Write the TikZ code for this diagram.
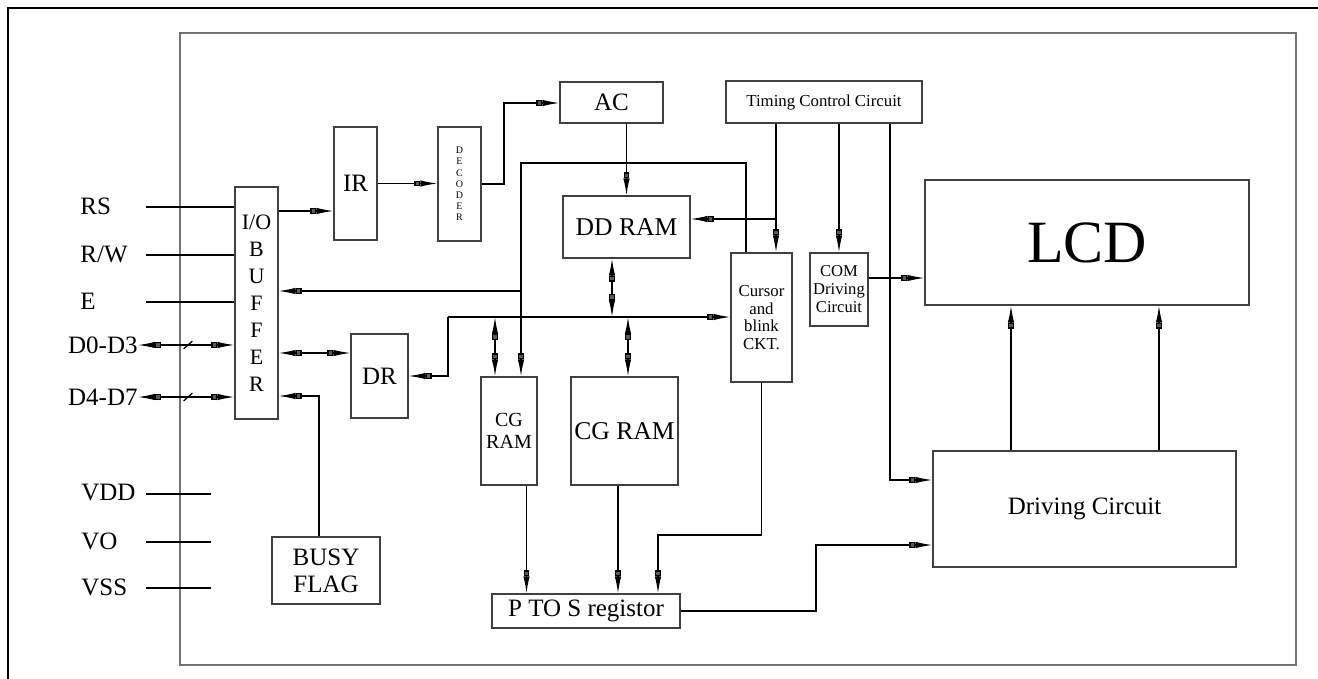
\documentclass[tikz,border=0pt]{standalone}
\usepackage{fontspec}
\setmainfont{Liberation Serif}
\usetikzlibrary{arrows.meta, positioning}
\tikzset{
    >=Latex,
    lcd_box/.style={
        rectangle,
        draw=black!75,
        line width=0.6pt,
        inner sep=0pt,
        align=center
    },
    lcd_frame/.style={
        rectangle,
        draw=black!55,
        line width=0.85pt,
        inner sep=0pt
    },
    lcd_pin/.style={
        inner sep=0pt,
        font=\fontsize{12.5}{15}\selectfont
    },
    lcd_wire/.style={
        draw=black,
        line width=0.6pt
    },
    lcd_arrow/.style={
        lcd_wire,
        -{Rectangle[length=3pt, width=2.8pt, sep=0pt, fill=black!65] Latex[length=8.5pt, width=3.2pt, sep=0pt]}
    },
    lcd_both/.style={
        lcd_wire,
        {Latex[length=8.5pt, width=3.2pt, sep=0pt] Rectangle[length=3pt, width=2.8pt, sep=0pt, fill=black!65]}-{Rectangle[length=3pt, width=2.8pt, sep=0pt, fill=black!65] Latex[length=8.5pt, width=3.2pt, sep=0pt]}
    }
}
\newcommand{\busmark}[1]{
    \draw[lcd_wire] ([shift={(-2.2pt,-2pt)}]#1) -- ([shift={(2.2pt,2pt)}]#1);
}

\begin{document}
\begin{tikzpicture}[x=0.5pt, y=-0.5pt]
\useasboundingbox (0,0) rectangle (1318,679);

% frames
\draw[line width=0.75pt] (8,679) -- (8,8) -- (1318,8);
\node[lcd_frame, minimum width=558pt, minimum height=316pt] (chip) at (738,349) {};

% blocks
\node[lcd_box, minimum width=21.5pt, minimum height=116pt, font=\fontsize{11}{13.5}\selectfont] (io) at (256.5,303)
  {I/O\\B\\U\\F\\F\\E\\R};
\node[lcd_box, minimum width=21.5pt, minimum height=56.5pt, font=\fontsize{12.5}{15}\selectfont] (ir) at (355.5,183.5) {IR};
\node[lcd_box, minimum width=21.5pt, minimum height=57pt, font=\fontsize{5}{5.6}\selectfont] (dec) at (459.5,184)
  {D\\E\\C\\O\\D\\E\\R};
\node[lcd_box, minimum width=51.5pt, minimum height=20.5pt, font=\fontsize{12.5}{15}\selectfont] (ac) at (611.5,102.5) {AC};
\node[lcd_box, minimum width=63.5pt, minimum height=31pt, font=\fontsize{12.8}{15}\selectfont] (ddram) at (626.5,227) {DD RAM};
\node[lcd_box, minimum width=98pt, minimum height=21pt, font=\fontsize{8.4}{10}\selectfont] (timing) at (824,102) {Timing Control Circuit};
\node[lcd_box, minimum width=30.5pt, minimum height=64.5pt, font=\fontsize{8.4}{8.8}\selectfont] (cursor) at (761.5,317.5)
  {Cursor\\and\\blink\\CKT.};
\node[lcd_box, minimum width=29pt, minimum height=36.5pt, font=\fontsize{8.3}{9}\selectfont] (com) at (839,289.5)
  {COM\\Driving\\Circuit};
\node[lcd_box, minimum width=162pt, minimum height=62.5pt, font=\fontsize{30}{36}\selectfont] (lcd) at (1087,242.5) {LCD};
\node[lcd_box, minimum width=151.5pt, minimum height=58pt, font=\fontsize{12.5}{15}\selectfont] (drv) at (1084.5,509) {Driving Circuit};
\node[lcd_box, minimum width=28.5pt, minimum height=42pt, font=\fontsize{12.5}{15}\selectfont] (dr) at (379.5,376) {DR};
\node[lcd_box, minimum width=28pt, minimum height=54pt, font=\fontsize{10}{11}\selectfont] (cgs) at (509,431) {CG\\RAM};
\node[lcd_box, minimum width=53.5pt, minimum height=54pt, font=\fontsize{12.8}{15}\selectfont] (cgb) at (624.5,431) {CG RAM};
\node[lcd_box, minimum width=94pt, minimum height=17pt, font=\fontsize{12.5}{15}\selectfont] (pts) at (586,611) {P TO S registor};
\node[lcd_box, minimum width=54pt, minimum height=33.5pt, font=\fontsize{12.5}{13.5}\selectfont] (busy) at (326,570.5)
  {BUSY\\FLAG};

% pins
\node[lcd_pin, anchor=west] (RS) at (80,206) {RS};
\node[lcd_pin, anchor=west] (RW) at (80,254) {R/W};
\node[lcd_pin, anchor=west] (E) at (80,301) {E};
\node[lcd_pin, anchor=east] (D03) at (138,345) {D0-D3};
\node[lcd_pin, anchor=east] (D47) at (138,397) {D4-D7};
\node[lcd_pin, anchor=west] (VDD) at (81,493) {VDD};
\node[lcd_pin, anchor=west] (VO) at (81,541) {VO};
\node[lcd_pin, anchor=west] (VSS) at (81,587) {VSS};

\coordinate (RSend) at (146,207);
\coordinate (RWend) at (146,255);
\coordinate (Eend) at (146,302);
\coordinate (VDDa) at (146,494);
\coordinate (VDDb) at (211,494);
\coordinate (VOa) at (146,542);
\coordinate (VOb) at (211,542);
\coordinate (VSSa) at (146,588);
\coordinate (VSSb) at (211,588);
\coordinate (m03) at (188,345);
\coordinate (m47) at (188,397);

\draw[lcd_wire] (RSend) -- (RSend -| io.west);
\draw[lcd_wire] (RWend) -- (RWend -| io.west);
\draw[lcd_wire] (Eend) -- (Eend -| io.west);
\draw[lcd_both] (D03.east) -- (D03.east -| io.west);
\draw[lcd_both] (D47.east) -- (D47.east -| io.west);
\busmark{m03}
\busmark{m47}
\draw[lcd_wire] (VDDa) -- (VDDb);
\draw[lcd_wire] (VOa) -- (VOb);
\draw[lcd_wire] (VSSa) -- (VSSb);

% bends
\coordinate (iir) at (300,211);
\coordinate (dac) at (504,103);
\coordinate (tcr) at (776,219);
\coordinate (tdr) at (890,480);
\coordinate (clc) at (880,278);
\coordinate (dl1) at (1011,400);
\coordinate (dl2) at (1159,400);
\coordinate (cl1) at (746,163);
\coordinate (cl2) at (521,163);
\coordinate (cl3) at (521,291);
\coordinate (bus) at (448,317);
\coordinate (bv1) at (495,317);
\coordinate (bv2) at (612,317);
\coordinate (bv3) at (628,317);
\coordinate (pc1) at (526.5,540);
\coordinate (pc2) at (618,540);
\coordinate (crs) at (658,535);
\coordinate (ptd) at (816,545);
\coordinate (bio) at (319,396);
\coordinate (idr) at (300,353);

% connections
\draw[lcd_arrow] (iir -| io.east) -- (iir -| ir.west);
\draw[lcd_arrow] (ir.east) -- (ir.east -| dec.west);
\draw[lcd_arrow] (dec.east) -| (dac) -- (dac -| ac.west);
\draw[lcd_arrow] (ac.south -| ddram.north) -- (ddram.north);
\draw[lcd_arrow] (tcr |- timing.south) -- (tcr |- cursor.north);
\draw[lcd_arrow] (tcr) -- (tcr -| ddram.east);
\draw[lcd_arrow] (timing.south -| com.north) -- (com.north);
\draw[lcd_arrow] (tdr |- timing.south) -- (tdr) -- (tdr -| drv.west);
\draw[lcd_arrow] (clc -| com.east) -- (clc -| lcd.west);
\draw[lcd_arrow] (dl1 |- drv.north) -- (dl1 |- lcd.south);
\draw[lcd_arrow] (dl2 |- drv.north) -- (dl2 |- lcd.south);
\draw[lcd_arrow] (cl1 |- cursor.north) -- (cl1) -- (cl2) -- (cl2 |- cgs.north);
\draw[lcd_arrow] (cl3) -- (cl3 -| io.east);
\draw[lcd_arrow] (bus) -- (bus -| cursor.west);
\draw[lcd_arrow] (bus) |- (dr.east);
\draw[lcd_both] (bv2 |- ddram.south) -- (bv2);
\draw[lcd_both] (bv1) -- (bv1 |- cgs.north);
\draw[lcd_both] (bv3) -- (bv3 |- cgb.north);
\draw[lcd_arrow] (pc1 |- cgs.south) -- (pc1 |- pts.north);
\draw[lcd_arrow] (pc2 |- cgb.south) -- (pc2 |- pts.north);
\draw[lcd_arrow] (cursor.south) |- (crs) -- (crs |- pts.north);
\draw[lcd_arrow] (pts.east) -| (ptd) -- (ptd -| drv.west);
\draw[lcd_arrow] (bio |- busy.north) -- (bio) -- (bio -| io.east);
\draw[lcd_both] (idr -| io.east) -- (idr -| dr.west);

\end{tikzpicture}
\end{document}
